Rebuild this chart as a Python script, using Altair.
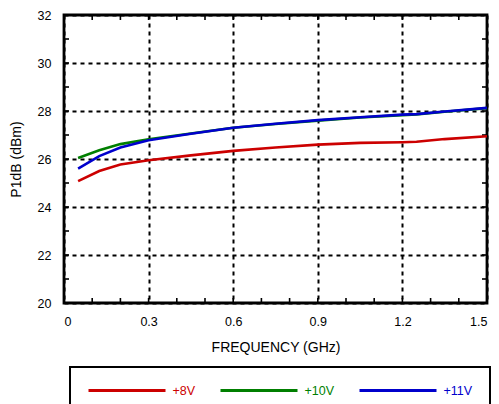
import altair as alt
import pandas as pd

# Frequency points (GHz) and P1dB readings (dBm) for each supply voltage
freq = [0.05, 0.125, 0.2, 0.3, 0.45, 0.6, 0.75, 0.9, 1.05, 1.2, 1.25, 1.35, 1.5]
p1db_8v = [25.08, 25.5, 25.77, 25.95, 26.15, 26.34, 26.48, 26.6, 26.67, 26.7, 26.72, 26.83, 26.95]
p1db_10v = [26.04, 26.36, 26.62, 26.82, 27.06, 27.3, 27.46, 27.6, 27.73, 27.83, 27.86, 27.97, 28.12]
p1db_11v = [25.6, 26.12, 26.48, 26.78, 27.05, 27.3, 27.47, 27.62, 27.74, 27.85, 27.87, 27.98, 28.13]

series_names = ["+8V", "+10V", "+11V"]
series_colors = ["#cc0000", "#007f00", "#0000cc"]

x_major = [0, 0.3, 0.6, 0.9, 1.2, 1.5]
y_major = [20, 22, 24, 26, 28, 30, 32]
x_minor = [0.1, 0.2, 0.3, 0.4, 0.5, 0.6, 0.7, 0.8, 0.9, 1.0, 1.1, 1.2, 1.3, 1.4]
y_minor = [21, 22, 23, 24, 25, 26, 27, 28, 29, 30, 31]

W, H = 423, 288
TICK = 5

rows = []
for name, vals in zip(series_names, [p1db_8v, p1db_10v, p1db_11v]):
    for f, v in zip(freq, vals):
        rows.append({"freq": f, "p1db": v, "series": name})
df = pd.DataFrame(rows)

xscale = alt.Scale(domain=[0, 1.5], nice=False, zero=False)
yscale = alt.Scale(domain=[20, 32], nice=False, zero=False)

label_color = alt.ExprRef(
    "datum.label == '+8V' ? '#cc0000' : datum.label == '+10V' ? '#007f00' : '#0000cc'"
)

axis_style = dict(
    grid=True, gridDash=[4, 4], gridColor="black", gridWidth=2, gridOpacity=1,
    domain=False, ticks=False, labelFontSize=12.5, titleFontSize=14,
    labelFont="Liberation Sans", titleFont="Liberation Sans",
    titleFontWeight="normal", labelColor="black", titleColor="black",
)

# A wide horizontal stroke as the legend swatch, kept short in layout height
swatch = "M-7.7,0H7.7"

lines = alt.Chart(df).mark_line(strokeWidth=2.6).encode(
    x=alt.X(
        "freq:Q", scale=xscale,
        axis=alt.Axis(values=x_major, format="~g", title="FREQUENCY (GHz)",
                      labelPadding=12, titlePadding=13, **axis_style),
    ),
    y=alt.Y(
        "p1db:Q", scale=yscale,
        axis=alt.Axis(values=y_major, title="P1dB (dBm)",
                      labelPadding=13, titlePadding=14, **axis_style),
    ),
    color=alt.Color(
        "series:N",
        scale=alt.Scale(domain=series_names, range=series_colors),
        legend=alt.Legend(
            title=None, orient="none", legendX=6, legendY=352,
            direction="horizontal", columns=3, columnPadding=18,
            symbolType=swatch, symbolSize=100, symbolStrokeWidth=3,
            symbolOffset=33.5, labelOffset=39,
            labelFontSize=12.5, labelFont="Liberation Sans",
            labelColor=label_color, strokeColor="black", padding=17,
        ),
    ),
    detail="series:N",
)

xt = pd.DataFrame({"v": x_minor})
yt = pd.DataFrame({"v": y_minor})

tick_style = dict(color="black", strokeWidth=1.6)
bottom_ticks = alt.Chart(xt).mark_rule(**tick_style).encode(
    x=alt.X("v:Q", scale=xscale), y=alt.value(H), y2=alt.value(H - TICK))
top_ticks = alt.Chart(xt).mark_rule(**tick_style).encode(
    x=alt.X("v:Q", scale=xscale), y=alt.value(0), y2=alt.value(TICK))
left_ticks = alt.Chart(yt).mark_rule(**tick_style).encode(
    y=alt.Y("v:Q", scale=yscale), x=alt.value(0), x2=alt.value(TICK))
right_ticks = alt.Chart(yt).mark_rule(**tick_style).encode(
    y=alt.Y("v:Q", scale=yscale), x=alt.value(W), x2=alt.value(W - TICK))

chart = alt.layer(
    bottom_ticks, top_ticks, left_ticks, right_ticks, lines
).properties(
    width=W, height=H,
    autosize=alt.AutoSizeParams(type="none"),
    padding={"left": 64, "top": 15, "right": 12, "bottom": 101},
    background="white",
).configure_view(
    stroke="black", strokeWidth=2.8
).configure_legend(
    strokeWidth=2
)

chart.save("out.html", embed_options={"renderer": "svg", "actions": False})
